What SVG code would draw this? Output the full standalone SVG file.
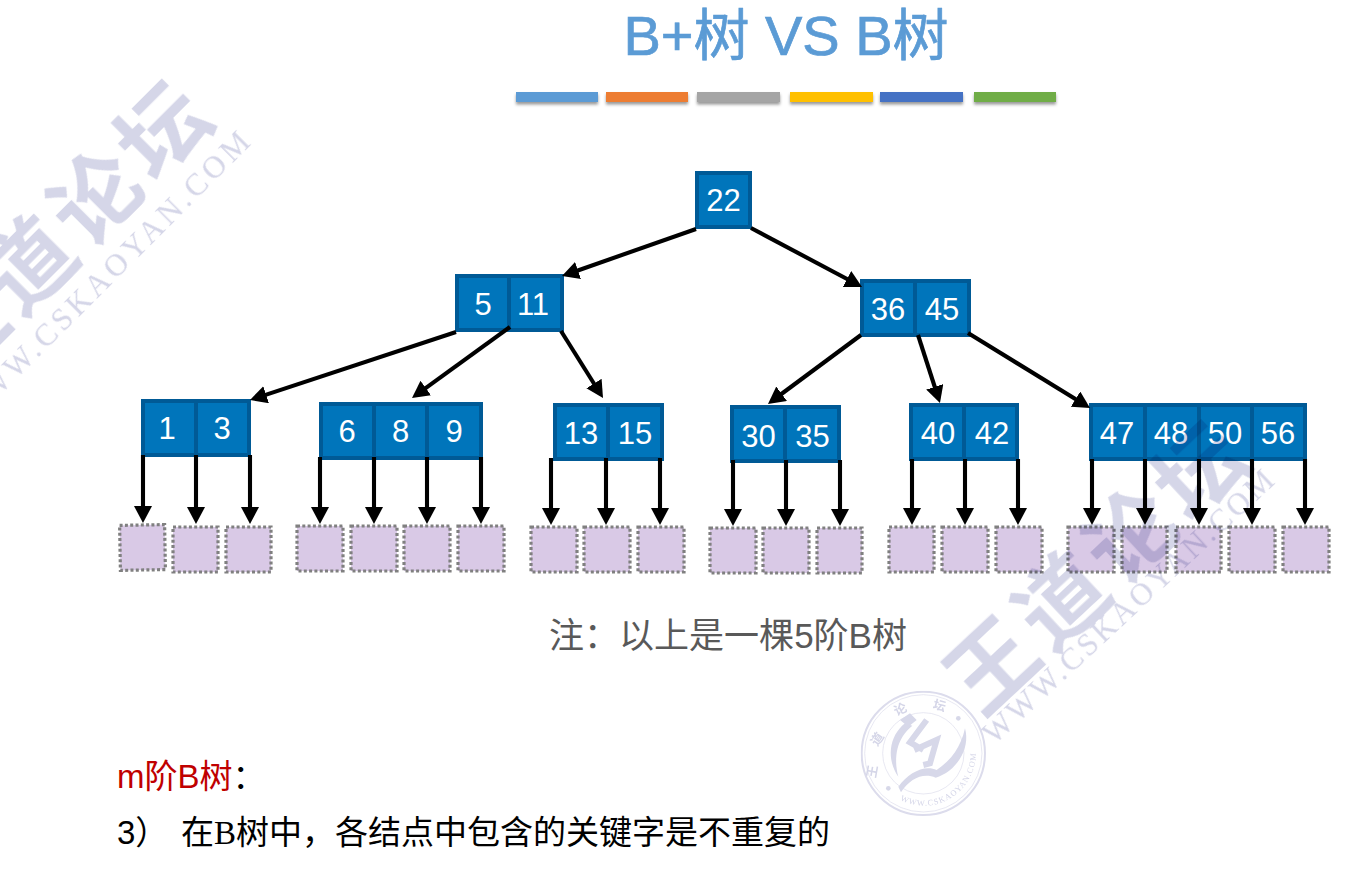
<svg xmlns="http://www.w3.org/2000/svg" width="1355" height="882" viewBox="0 0 1355 882">
<defs>
<marker id="ah" markerUnits="userSpaceOnUse" markerWidth="19" markerHeight="19" refX="7" refY="9" orient="auto"><path d="M0 0L17 9L0 18Z" fill="#000"/></marker>
<filter id="sh" x="-10%" y="-60%" width="120%" height="260%"><feDropShadow dx="0" dy="2.5" stdDeviation="1.6" flood-color="#000" flood-opacity=".4"/></filter>
</defs>
<style>
text{font-family:"Liberation Sans","Noto Sans CJK SC",sans-serif}
.c{fill:#0075bb;stroke:#005a96;stroke-width:4}
.n{fill:#fff;font-size:31px;text-anchor:middle}
.l{fill:#d9c9e6;stroke:#808080;stroke-width:3.2;stroke-dasharray:3 2.3}
#connectors path{fill:none;stroke:#000;stroke-width:4.1;marker-end:url(#ah)}
.wm{mix-blend-mode:multiply}
.wm text{fill:#d5d6e8}
.wb{font-family:"Noto Sans CJK SC",sans-serif!important;font-weight:700;font-size:88px;text-anchor:middle}
.ws{font-family:"Liberation Serif",serif!important;font-size:31px}
.sl{fill:#d7d8e9}
.sr{fill:none;stroke:#dcdcec}
</style>
<rect width="1355" height="882" fill="#fff"/>

<g id="title">
<text x="786" y="55" font-size="56" fill="#5b9bd5" stroke="#5b9bd5" stroke-width=".7" text-anchor="middle">B+树 VS B树</text>
<g filter="url(#sh)">
<rect x="516" y="92" width="82" height="10" fill="#5b9bd5"/>
<rect x="606" y="92" width="82" height="10" fill="#ed7d31"/>
<rect x="697" y="92" width="83" height="10" fill="#a5a5a5"/>
<rect x="790" y="92" width="83" height="10" fill="#ffc000"/>
<rect x="880" y="92" width="83" height="10" fill="#4472c4"/>
<rect x="974" y="92" width="82" height="10" fill="#70ad47"/>
</g>
</g>

<g id="node-22"><rect class="c" x="697" y="173" width="53" height="54"/><text class="n" x="723.500" y="211">22</text></g>
<g id="node-5-11"><rect class="c" x="457" y="276" width="52" height="54"/><rect class="c" x="509" y="276" width="53" height="54"/><text class="n" x="483" y="315">5</text><text class="n" x="533" y="315">11</text></g>
<g id="node-36-45"><rect class="c" x="862" y="281" width="53" height="54"/><rect class="c" x="915" y="281" width="54" height="54"/><text class="n" x="888" y="320">36</text><text class="n" x="942" y="320">45</text></g>
<g id="node-1-3"><rect class="c" x="143" y="401" width="53" height="54"/><rect class="c" x="196" y="401" width="53" height="54"/><text class="n" x="167" y="439">1</text><text class="n" x="222" y="439">3</text></g>
<g id="node-6-8-9"><rect class="c" x="321" y="404" width="53" height="54"/><rect class="c" x="374" y="404" width="53" height="54"/><rect class="c" x="427" y="404" width="54" height="54"/><text class="n" x="347" y="442">6</text><text class="n" x="400.500" y="442">8</text><text class="n" x="454" y="442">9</text></g>
<g id="node-13-15"><rect class="c" x="555" y="405" width="53" height="54"/><rect class="c" x="608" y="405" width="54" height="54"/><text class="n" x="581" y="444">13</text><text class="n" x="635" y="444">15</text></g>
<g id="node-30-35"><rect class="c" x="732" y="407" width="53" height="54"/><rect class="c" x="785" y="407" width="54" height="54"/><text class="n" x="758.500" y="447">30</text><text class="n" x="812.500" y="447">35</text></g>
<g id="node-40-42"><rect class="c" x="911" y="405" width="53" height="54"/><rect class="c" x="964" y="405" width="53" height="54"/><text class="n" x="938" y="444">40</text><text class="n" x="992" y="444">42</text></g>
<g id="node-47-48-50-56"><rect class="c" x="1091" y="405" width="54" height="54"/><rect class="c" x="1145" y="405" width="54" height="54"/><rect class="c" x="1199" y="405" width="53" height="54"/><rect class="c" x="1252" y="405" width="53" height="54"/><text class="n" x="1117" y="444">47</text><text class="n" x="1171" y="444">48</text><text class="n" x="1225" y="444">50</text><text class="n" x="1278" y="444">56</text></g>

<g id="leaves">
<rect class="l" x="120" y="525" width="45" height="45" transform="rotate(-1 142 547)"/><rect class="l" x="173" y="527" width="45" height="45"/><rect class="l" x="226" y="527" width="45" height="45"/>
<rect class="l" x="297" y="526" width="46" height="45"/><rect class="l" x="351" y="526" width="46" height="45"/><rect class="l" x="404" y="526" width="46" height="45"/><rect class="l" x="458" y="526" width="46" height="45"/>
<rect class="l" x="531" y="527" width="46" height="45"/><rect class="l" x="584" y="527" width="46" height="45"/><rect class="l" x="638" y="527" width="46" height="45"/>
<rect class="l" x="710" y="528" width="46" height="45"/><rect class="l" x="763" y="528" width="46" height="45"/><rect class="l" x="817" y="528" width="45" height="45"/>
<rect class="l" x="889" y="527" width="45" height="45"/><rect class="l" x="942" y="527" width="46" height="45"/><rect class="l" x="996" y="527" width="46" height="45"/>
<rect class="l" x="1068" y="527" width="46" height="45"/><rect class="l" x="1122" y="527" width="45" height="45"/><rect class="l" x="1176" y="527" width="45" height="45"/><rect class="l" x="1229" y="527" width="46" height="45"/><rect class="l" x="1283" y="527" width="46" height="45"/>
</g>

<g id="connectors">
<path d="M696 229L571.400 272.700"/><path d="M751 228L853.200 282.300"/>
<path d="M456 332L259.500 396.900"/><path d="M510 327L420.100 392.100"/><path d="M561 331L597.700 389.500"/>
<path d="M861 335L776 398"/><path d="M918 335L936.900 393.500"/><path d="M968 333L1081.500 402.800"/>
<path d="M143 455V513"/><path d="M196 455V514"/><path d="M250 455V514"/>
<path d="M320 457V514"/><path d="M374 457V514"/><path d="M427 457V514"/><path d="M481 457V514"/>
<path d="M551 458V515"/><path d="M606 458V515"/><path d="M660 458V515"/>
<path d="M733 460V516"/><path d="M786 460V516"/><path d="M840 460V516"/>
<path d="M912 459V515"/><path d="M965 459V515"/><path d="M1018 459V515"/>
<path d="M1092 459V515"/><path d="M1145 459V515"/><path d="M1199 459V515"/><path d="M1252 459V515"/><path d="M1305 459V515"/>
</g>

<g id="labels">
<text x="549" y="648" font-size="35" fill="#595959" textLength="358">注：以上是一棵5阶B树</text>
<text x="117" y="788" font-size="33" fill="#c00000">m阶B树<tspan fill="#000">：</tspan></text>
<text x="117" y="844" font-size="33" fill="#000">3）</text>
<text x="181" y="844" font-size="33" fill="#000">在<tspan font-family="Liberation Serif">B</tspan>树中，各结点中包含的关键字是不重复的</text>
</g>

<g id="watermarks" class="wm">
<g transform="translate(65 229) rotate(-45)"><text class="wb" x="0" y="31" letter-spacing="7">王道论坛</text><text class="ws" x="-208" y="72" textLength="400">WWW.CSKAOYAN.COM</text></g>
<g transform="translate(1099 566) rotate(-43)"><text class="wb" x="0" y="31" letter-spacing="7">王道论坛</text><text class="ws" x="-199" y="60" textLength="385">WWW.CSKAOYAN.COM</text></g>
<g id="seal" transform="translate(855 685) scale(.3333)">
<circle class="sr" cx="205" cy="205" r="185" stroke-width="6"/>
<circle class="sr" cx="205" cy="205" r="176" stroke-width="2"/>
<circle class="sr" cx="205" cy="205" r="122" stroke-width="2"/>
<circle class="sl" cx="310" cy="100" r="7"/><circle class="sl" cx="100" cy="310" r="7"/>
<path class="sl" d="M135 105L165 85L185 105L160 125Z"/>
<path class="sl" d="M150 115C100 155 95 225 130 275C115 215 125 160 172 122Z"/>
<path class="sl" d="M130 305C160 262 210 238 245 255C290 225 318 185 330 130C348 195 300 262 242 278C205 262 165 280 138 322Z"/>
<path d="M215 105L165 172L205 195M178 195L245 165L225 235L205 240" fill="none" stroke="#d7d8e9" stroke-width="18"/>
<text transform="translate(65 262) rotate(-80)" font-size="38" font-weight="700" text-anchor="middle">王</text>
<text transform="translate(78 170) rotate(-55)" font-size="38" font-weight="700" text-anchor="middle">道</text>
<text transform="translate(142 85) rotate(-25)" font-size="38" font-weight="700" text-anchor="middle">论</text>
<text transform="translate(250 75) rotate(15)" font-size="38" font-weight="700" text-anchor="middle">坛</text>
<path id="sa" d="M135 345A156 156 0 0 0 345 135" fill="none"/>
<text style="font-family:'Liberation Serif',serif" font-size="25" letter-spacing="3"><textPath href="#sa">WWW.CSKAOYAN.COM</textPath></text>
</g>
</g>
</svg>
